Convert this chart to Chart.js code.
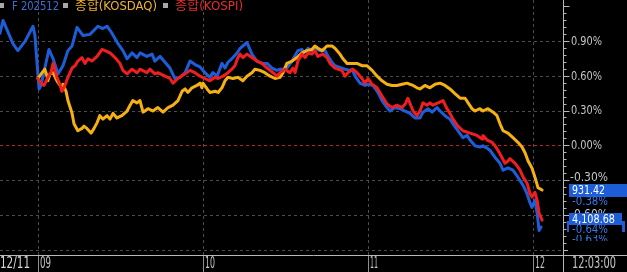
<!DOCTYPE html>
<html>
<head>
<meta charset="utf-8">
<script src="https://cdn.jsdelivr.net/npm/chart.js@4.4.1/dist/chart.umd.min.js"></script>
<style>
  html, body { margin: 0; padding: 0; background: #000; }
  #c { display: block; }
</style>
</head>
<body>
<canvas id="c" width="627" height="272"></canvas>
<script>
// time = minutes from 09:00, values = % change
const futT = [-13.8,-12.7,-9.1,-7.3,-4.7,-1.8,-1.1,0.4,1.1,4.0,
  5.5,7.3,9.1,10.9,12.4,14.2,16.4,18.9,21.8,23.6,
  25.1,26.9,29.1,30.9,32.4,34.2,36.0,37.1,39.6,41.5,
  42.5,44.4,46.2,48.0,49.8,51.6,53.5,55.3,57.1,58.9,
  60.7,62.5,63.6,65.1,66.9,68.0,69.1,70.9,72.4,73.5,
  74.5,76.0,77.8,79.6,81.5,83.3,85.1,86.9,88.0,89.1,
  90.5,92.4,94.5,96.0,96.7,98.2,99.6,100.7,102.5,104.4,
  105.5,106.9,108.0,110.5,111.6,113.5,114.2,115.3,117.1,118.9,
  120.0,121.8,123.6,125.1,126.9,128.0,129.8,131.6,133.5,135.3,
  137.1,138.9,140.0,141.8,143.3,145.1,146.2,148.0,149.8,150.9,
  152.7,154.5,156.0,157.1,158.9,160.7,161.8,163.3,164.4,166.2,
  168.0,169.1,170.9,172.7,174.5,176.4,177.8,178.9,179.6,180.7,
  181.5,182.2,182.9];
const futV = [0.97,1.08,0.88,0.82,0.90,1.03,0.95,0.49,0.52,0.83,
  0.75,0.62,0.69,0.82,0.86,1.02,0.95,0.96,1.03,1.01,
  1.03,0.97,0.88,0.82,0.75,0.80,0.76,0.80,0.77,0.79,
  0.73,0.77,0.72,0.67,0.58,0.59,0.63,0.73,0.70,0.68,
  0.63,0.59,0.63,0.60,0.71,0.67,0.72,0.76,0.80,0.84,
  0.86,0.89,0.79,0.73,0.71,0.71,0.67,0.65,0.66,0.66,
  0.67,0.73,0.82,0.83,0.80,0.84,0.82,0.84,0.82,0.82,
  0.77,0.72,0.69,0.67,0.66,0.65,0.66,0.60,0.54,0.52,
  0.53,0.52,0.46,0.39,0.33,0.30,0.33,0.32,0.30,0.28,
  0.24,0.24,0.29,0.32,0.29,0.33,0.30,0.26,0.23,0.19,
  0.13,0.07,0.09,0.05,0.00,-0.01,0.00,-0.02,-0.04,-0.10,
  -0.15,-0.21,-0.19,-0.21,-0.27,-0.34,-0.41,-0.49,-0.53,-0.47,
  -0.58,-0.73,-0.70];

const kosdaqT = [0.0,1.5,2.5,3.3,3.6,4.4,5.5,6.9,8.7,9.1,
  10.2,10.9,12.4,13.1,14.5,16.0,16.7,17.8,19.3,20.4,
  21.5,22.5,23.6,25.1,26.2,27.3,28.7,30.5,32.4,33.5,
  34.5,36.0,37.1,38.2,40.0,41.8,43.6,45.5,47.3,49.1,
  50.9,52.4,53.5,54.5,56.0,57.8,58.9,59.6,60.0,61.5,
  62.5,64.4,65.5,66.9,68.0,69.1,70.9,72.7,74.5,76.0,
  77.8,78.9,80.7,82.5,84.4,86.2,88.0,89.1,90.5,92.4,
  94.2,96.0,97.8,99.6,100.7,101.8,103.3,105.1,106.9,108.0,
  109.8,110.9,112.4,114.2,116.0,117.8,119.6,121.5,123.3,125.1,
  126.9,128.7,130.5,132.4,134.2,135.3,136.4,137.8,138.9,140.7,
  142.5,144.4,146.2,148.0,149.8,151.6,153.5,155.3,156.4,157.8,
  158.9,160.7,161.8,163.6,165.5,166.9,168.0,169.1,170.9,172.7,
  174.5,176.0,177.1,178.2,179.6,180.7,181.8,183.3];
const kosdaqV = [0.58,0.63,0.66,0.60,0.56,0.62,0.63,0.56,0.50,0.53,
  0.47,0.39,0.28,0.19,0.13,0.15,0.17,0.15,0.11,0.15,
  0.20,0.26,0.23,0.26,0.23,0.28,0.24,0.26,0.30,0.35,
  0.39,0.37,0.39,0.29,0.32,0.30,0.33,0.29,0.33,0.35,
  0.39,0.47,0.49,0.46,0.50,0.52,0.54,0.50,0.54,0.49,
  0.46,0.47,0.46,0.50,0.56,0.59,0.58,0.59,0.56,0.60,
  0.63,0.66,0.65,0.63,0.60,0.58,0.59,0.63,0.71,0.73,
  0.76,0.80,0.82,0.83,0.86,0.84,0.82,0.86,0.86,0.84,
  0.79,0.75,0.71,0.71,0.71,0.69,0.69,0.65,0.60,0.56,
  0.53,0.52,0.52,0.53,0.54,0.53,0.52,0.50,0.49,0.52,
  0.50,0.53,0.54,0.52,0.49,0.45,0.41,0.41,0.37,0.32,
  0.30,0.32,0.30,0.32,0.29,0.26,0.19,0.13,0.11,0.07,
  0.03,-0.01,-0.06,-0.13,-0.19,-0.27,-0.36,-0.38];

const kospiT = [0.0,1.5,2.2,3.6,4.7,5.5,6.2,6.9,8.0,8.7,
  9.8,10.9,12.4,13.5,14.5,16.0,17.1,18.2,19.6,21.5,
  23.3,24.4,26.2,28.0,29.8,30.9,32.4,34.2,36.0,37.1,
  39.6,40.7,42.5,43.6,46.2,48.0,49.1,50.9,53.5,55.3,
  57.1,58.9,60.7,62.5,64.4,65.5,67.3,69.1,70.5,71.6,
  72.7,73.5,74.5,76.0,77.8,79.6,81.5,83.3,85.5,86.9,
  88.0,89.8,91.6,92.7,93.5,94.5,96.0,97.1,98.2,99.6,
  100.7,101.8,103.6,105.1,106.2,108.0,109.1,110.5,111.6,112.7,
  114.5,116.0,117.8,118.9,120.0,121.5,123.3,125.1,126.9,128.7,
  130.5,132.4,133.5,134.5,136.4,137.8,138.9,140.0,141.5,142.5,
  143.6,145.5,147.3,148.7,149.8,150.9,152.7,154.5,157.1,159.6,
  161.5,161.8,163.3,165.1,166.2,167.3,168.7,169.8,170.9,171.6,
  173.5,175.3,176.4,177.8,178.9,179.6,180.7,181.5,182.2,183.3];
const kospiV = [0.58,0.53,0.52,0.59,0.63,0.71,0.65,0.59,0.53,0.47,
  0.52,0.59,0.67,0.69,0.73,0.76,0.71,0.75,0.73,0.77,
  0.83,0.82,0.80,0.76,0.71,0.65,0.62,0.66,0.63,0.66,
  0.63,0.66,0.62,0.63,0.60,0.58,0.54,0.58,0.62,0.65,
  0.63,0.60,0.58,0.56,0.59,0.58,0.60,0.63,0.66,0.69,
  0.76,0.79,0.76,0.79,0.76,0.73,0.71,0.67,0.63,0.60,
  0.63,0.66,0.63,0.67,0.63,0.73,0.79,0.76,0.80,0.79,
  0.82,0.77,0.79,0.76,0.71,0.67,0.66,0.65,0.60,0.63,
  0.66,0.63,0.58,0.54,0.58,0.53,0.50,0.43,0.36,0.33,
  0.35,0.33,0.36,0.41,0.30,0.26,0.30,0.37,0.35,0.37,
  0.35,0.37,0.39,0.32,0.28,0.23,0.17,0.13,0.11,0.09,
  0.06,0.09,0.05,0.03,0.00,-0.04,-0.10,-0.15,-0.13,-0.11,
  -0.15,-0.21,-0.27,-0.32,-0.41,-0.44,-0.40,-0.47,-0.58,-0.64];

// axis labels
const yTicks = [0.9, 0.6, 0.3, 0, -0.3, -0.6, -0.9];
const yTickLabels = ['0.90%', '0.60%', '0.30%', '0.00%', '-0.30%', '-0.60%', ''];
const hourTicks = [0, 60, 120, 180];
const hourLabels = ['09', '10', '11', '12'];
const dateLabel = '12/11';
const timeLabel = '12:03:00';

// legend + last values
const seriesNames = ['F 202512', '종합(KOSDAQ)', '종합(KOSPI)'];
const lastPrices = ['', '931.42', '4,108.68'];
const lastChanges = ['-0.63%', '-0.38%', '-0.64%'];

const FONT = '"Liberation Sans Narrow", "DejaVu Sans Condensed", "Noto Sans CJK KR", sans-serif';
const BLUE = '#1d5ed8', ORANGE = '#f5b012', RED = '#f01e1e';

const toPoints = (ts, vs) => ts.map((t, i) => ({ x: t, y: vs[i] }));

// draw text squeezed/stretched to a target width
const txt = (ctx, s, x, y, w, color, size) => {
    ctx.save();
    ctx.font = size + 'px ' + FONT;
    ctx.textBaseline = 'middle';
    ctx.textAlign = 'left';
    ctx.fillStyle = color;
    const m = ctx.measureText(s).width || 1;
    ctx.translate(x, y);
    ctx.scale(w / m, 1);
    ctx.fillText(s, 0, 0);
    ctx.restore();
};

const line = (ctx, x1, y1, x2, y2) => {
    ctx.beginPath();
    ctx.moveTo(x1, y1);
    ctx.lineTo(x2, y2);
    ctx.stroke();
};

const htsPlugin = {
    id: 'hts',
    beforeDatasetsDraw(chart) {
        const { ctx, chartArea: a, scales: { x, y } } = chart;
        ctx.save();
        ctx.lineWidth = 1;
        ctx.setLineDash([3, 3]);
        yTicks.forEach(v => {
            const py = Math.floor(y.getPixelForValue(v)) + 0.5;
            ctx.strokeStyle = v === 0 ? '#b82222' : '#4c4c4c';
            line(ctx, a.left, py, a.right, py);
        });
        ctx.strokeStyle = '#4c4c4c';
        hourTicks.forEach(t => {
            const px = Math.round(x.getPixelForValue(t)) + 0.5;
            line(ctx, px, a.top, px, a.bottom);
        });
        ctx.restore();
    },
    afterDraw(chart) {
        const { ctx, chartArea: a, scales: { x, y } } = chart;
        const W = chart.width, H = chart.height;
        ctx.save();
        ctx.lineWidth = 1;
        ctx.strokeStyle = '#b8b8b8';
        const ax = a.right + 0.5;
        line(ctx, ax, 0, ax, H);
        line(ctx, 0, a.bottom + 0.5, W, a.bottom + 0.5);
        // minor / major ticks on the value axis
        for (let k = -15; k <= 20; k++) {
            const py = Math.floor(y.getPixelForValue(k * 0.06)) + 0.5;
            if (py > a.bottom) continue;
            line(ctx, ax, py, ax + (k % 5 === 0 ? 6 : 3), py);
        }
        // separators under the time axis
        ctx.strokeStyle = '#909090';
        hourTicks.forEach(t => {
            const px = Math.round(x.getPixelForValue(t)) + 0.5;
            line(ctx, px, a.bottom + 1, px, H);
        });
        ctx.restore();

        // value labels
        yTicks.forEach((v, i) => {
            if (!yTickLabels[i]) return;
            let py = y.getPixelForValue(v);
            if (v === -0.3) py -= 3;
            if (v === -0.6) py -= 1;
            const neg = v < 0;
            txt(ctx, yTickLabels[i], neg ? 570 : 571, py, neg ? 38 : 31, '#c4c4c4', 13);
        });

        // time labels
        txt(ctx, dateLabel, 0, 264, 30, '#d8d8d8', 15);
        const hw = [11, 10, 8, 10];
        hourTicks.forEach((t, i) => {
            const px = Math.round(x.getPixelForValue(t));
            txt(ctx, hourLabels[i], px + 2, 264, hw[i], '#c4c4c4', 15);
        });
        txt(ctx, timeLabel, 572, 264, 44, '#c4c4c4', 15);

        // last value stacks: futures (mostly hidden), KOSPI, KOSDAQ
        ctx.fillStyle = BLUE;
        ctx.fillRect(567, 221, 58, 11);
        txt(ctx, lastChanges[0], 572, 240, 36, '#3a78e4', 13);
        ctx.fillStyle = '#000';
        ctx.fillRect(568, 241, 59, 13);

        ctx.fillStyle = BLUE;
        ctx.fillRect(569, 213, 53, 12);
        txt(ctx, lastPrices[2], 572, 219.5, 43, '#ffffff', 13);
        ctx.fillStyle = '#000';
        ctx.fillRect(569, 225, 53, 10);
        txt(ctx, lastChanges[2], 572, 230, 36, '#3a78e4', 13);

        ctx.fillStyle = BLUE;
        ctx.fillRect(569, 184, 58, 13);
        txt(ctx, lastPrices[1], 572, 190.5, 33, '#ffffff', 13);
        ctx.fillStyle = '#000';
        ctx.fillRect(569, 197, 58, 10);
        txt(ctx, lastChanges[1], 572, 202, 36, '#3a78e4', 13);

        // legend
        ctx.fillStyle = '#a8a8a8';
        [-1, 63, 163].forEach(sx => ctx.fillRect(sx, 3, 5, 5));
        txt(ctx, seriesNames[0], 12, 7, 47, '#3c6fd6', 12);
        txt(ctx, seriesNames[1], 75, 6.5, 82, '#f2b428', 12);
        txt(ctx, seriesNames[2], 175, 6.5, 68, '#ec2c2c', 12);
    }
};

new Chart(document.getElementById('c'), {
    type: 'line',
    data: {
        datasets: [
            { label: seriesNames[2], data: toPoints(kospiT, kospiV), borderColor: RED, order: 0 },
            { label: seriesNames[1], data: toPoints(kosdaqT, kosdaqV), borderColor: ORANGE, order: 1 },
            { label: seriesNames[0], data: toPoints(futT, futV), borderColor: BLUE, order: 2 }
        ]
    },
    options: {
        responsive: false,
        animation: false,
        devicePixelRatio: 1,
        layout: { padding: 0, autoPadding: false },
        elements: {
            point: { radius: 0 },
            line: { borderWidth: 3, tension: 0, borderJoinStyle: 'round', borderCapStyle: 'round' }
        },
        plugins: { legend: { display: false }, tooltip: { enabled: false } },
        scales: {
            x: {
                type: 'linear', min: -13.8, max: 190.9,
                grid: { display: false }, border: { display: false }, ticks: { display: false },
                afterFit: s => { s.height = 17; }
            },
            y: {
                type: 'linear', position: 'right', min: -0.94, max: 1.256,
                grid: { display: false }, border: { display: false }, ticks: { display: false },
                afterFit: s => { s.width = 64; }
            }
        }
    },
    plugins: [htsPlugin]
});
</script>
</body>
</html>
